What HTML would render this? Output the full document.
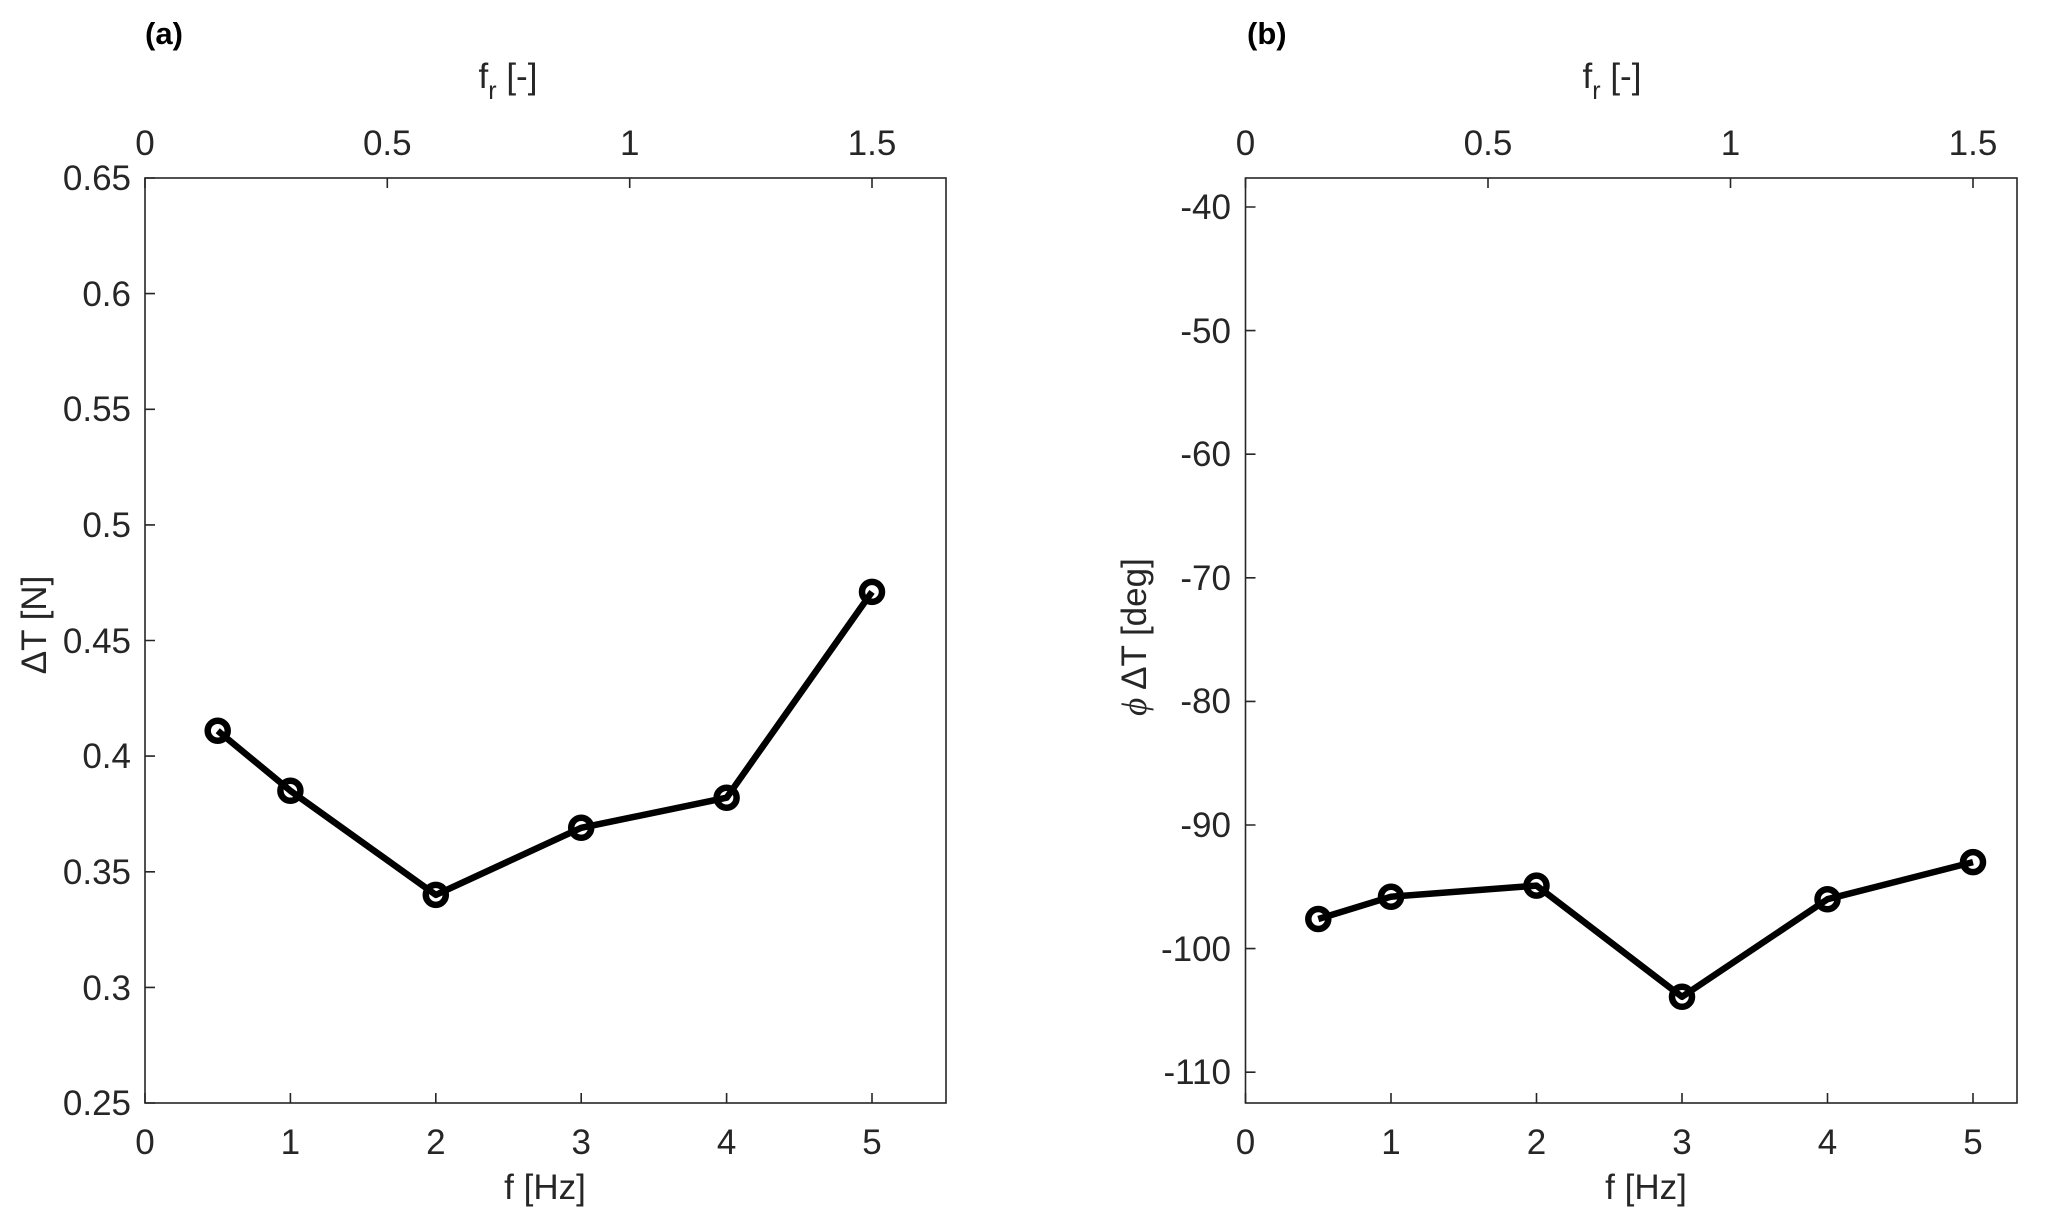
<!DOCTYPE html>
<html><head><meta charset="utf-8"><style>
html,body{margin:0;padding:0;background:#fff;}
svg{display:block;font-family:"Liberation Sans",sans-serif;}
.t{font-size:35px;fill:#262626;}
.ax{stroke:#262626;stroke-width:1.6;fill:none;}
.d{stroke:#000;stroke-width:6.5;fill:none;stroke-linejoin:round;}
.m{stroke:#000;stroke-width:6.5;fill:none;}
</style></head><body>
<svg width="2067" height="1224" viewBox="0 0 2067 1224">
<!-- Panel a -->
<text x="145" y="44" font-size="31" font-weight="bold" fill="#000">(a)</text>
<text class="t" x="508" y="88" text-anchor="middle">f<tspan font-size="25" dy="11">r</tspan><tspan dy="-11"> [-]</tspan></text>
<rect class="ax" x="145" y="178" width="801" height="925"/>
<g class="ax">
<path d="M145 1103v-10M290.4 1103v-10M435.8 1103v-10M581.2 1103v-10M726.6 1103v-10M872 1103v-10"/>
<path d="M145 178v10M387.3 178v10M629.7 178v10M872 178v10"/>
<path d="M145 1103h10M145 987.4h10M145 871.8h10M145 756.1h10M145 640.5h10M145 524.9h10M145 409.3h10M145 293.6h10M145 178h10"/>
</g>
<g class="t" text-anchor="end">
<text x="131" y="1115">0.25</text><text x="131" y="1000">0.3</text><text x="131" y="884">0.35</text><text x="131" y="768">0.4</text><text x="131" y="653">0.45</text><text x="131" y="537">0.5</text><text x="131" y="421">0.55</text><text x="131" y="306">0.6</text><text x="131" y="190">0.65</text>
</g>
<g class="t" text-anchor="middle">
<text x="145" y="1154">0</text><text x="290.4" y="1154">1</text><text x="435.8" y="1154">2</text><text x="581.2" y="1154">3</text><text x="726.6" y="1154">4</text><text x="872" y="1154">5</text>
<text x="145" y="155">0</text><text x="387.3" y="155">0.5</text><text x="629.7" y="155">1</text><text x="872" y="155">1.5</text>
<text x="545" y="1199">f [Hz]</text>
</g>
<text class="t" transform="translate(46,625) rotate(-90)" text-anchor="middle">ΔT [N]</text>
<polyline class="d" points="217.7,730.7 290.4,790.8 435.8,894.9 581.2,827.8 726.6,797.7 872,591.9"/>
<g class="m"><circle cx="217.7" cy="730.7" r="10"/><circle cx="290.4" cy="790.8" r="10"/><circle cx="435.8" cy="894.9" r="10"/><circle cx="581.2" cy="827.8" r="10"/><circle cx="726.6" cy="797.7" r="10"/><circle cx="872" cy="591.9" r="10"/></g>

<!-- Panel b -->
<text x="1247" y="44" font-size="31" font-weight="bold" fill="#000">(b)</text>
<text class="t" x="1612" y="88" text-anchor="middle">f<tspan font-size="25" dy="11">r</tspan><tspan dy="-11"> [-]</tspan></text>
<rect class="ax" x="1245.5" y="178" width="771.5" height="925"/>
<g class="ax">
<path d="M1245.5 1103v-10M1391 1103v-10M1536.5 1103v-10M1682 1103v-10M1827.5 1103v-10M1973 1103v-10"/>
<path d="M1245.5 178v10M1488 178v10M1730.5 178v10M1973 178v10"/>
<path d="M1245.5 207h10M1245.5 330.6h10M1245.5 454.2h10M1245.5 577.8h10M1245.5 701.4h10M1245.5 825h10M1245.5 948.6h10M1245.5 1072.2h10"/>
</g>
<g class="t" text-anchor="end">
<text x="1231" y="219">-40</text><text x="1231" y="343">-50</text><text x="1231" y="466">-60</text><text x="1231" y="590">-70</text><text x="1231" y="713">-80</text><text x="1231" y="837">-90</text><text x="1231" y="961">-100</text><text x="1231" y="1084">-110</text>
</g>
<g class="t" text-anchor="middle">
<text x="1245.5" y="1154">0</text><text x="1391" y="1154">1</text><text x="1536.5" y="1154">2</text><text x="1682" y="1154">3</text><text x="1827.5" y="1154">4</text><text x="1973" y="1154">5</text>
<text x="1245.5" y="155">0</text><text x="1488" y="155">0.5</text><text x="1730.5" y="155">1</text><text x="1973" y="155">1.5</text>
<text x="1646" y="1199">f [Hz]</text>
</g>
<text class="t" transform="translate(1146,637) rotate(-90)" text-anchor="middle"><tspan font-family="Liberation Serif" font-style="italic">ϕ</tspan> ΔT [deg]</text>
<polyline class="d" points="1318.3,919 1391,896.7 1536.5,885.6 1682,996.8 1827.5,899.2 1973,862.1"/>
<g class="m"><circle cx="1318.3" cy="919" r="10"/><circle cx="1391" cy="896.7" r="10"/><circle cx="1536.5" cy="885.6" r="10"/><circle cx="1682" cy="996.8" r="10"/><circle cx="1827.5" cy="899.2" r="10"/><circle cx="1973" cy="862.1" r="10"/></g>
</svg>
</body></html>
